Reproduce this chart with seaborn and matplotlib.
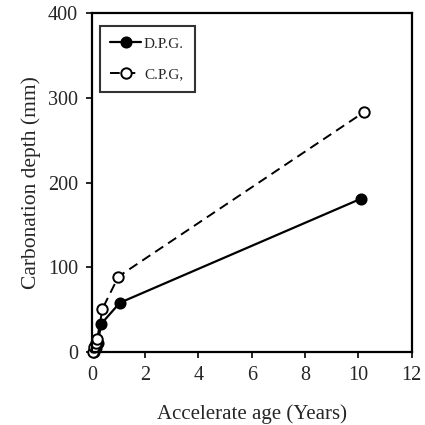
import matplotlib
matplotlib.use("Agg")
import matplotlib.pyplot as plt
import seaborn as sns
import pandas as pd

dpg_age = [0.08, 0.15, 0.22, 0.35, 1.05, 10.1]
dpg_depth = [0, 5, 10, 33, 58, 181]
cpg_age = [0.04, 0.10, 0.15, 0.20, 0.40, 1.0, 10.2]
cpg_depth = [0, 6, 11, 15, 51, 89, 283]
x_ticks = [0, 2, 4, 6, 8, 10, 12]
y_ticks = [0, 100, 200, 300, 400]

sns.set_style("ticks")
plt.rcParams['font.family'] = ['Liberation Serif', 'DejaVu Serif']

fig = plt.figure(figsize=(4.25, 4.25), dpi=100)
ax = fig.add_axes([0.216, 0.172, 0.753, 0.797])

d1 = pd.DataFrame({"age": dpg_age, "depth": dpg_depth})
d2 = pd.DataFrame({"age": cpg_age, "depth": cpg_depth})
sns.lineplot(data=d1, x="age", y="depth", ax=ax, color="black", lw=1.6,
             marker="o", markersize=7.5, markerfacecolor="black",
             markeredgecolor="black", markeredgewidth=1.2, label="D.P.G.",
             clip_on=False)
sns.lineplot(data=d2, x="age", y="depth", ax=ax, color="black", lw=1.4,
             linestyle=(0, (5, 3)), marker="o", markersize=7.5,
             markerfacecolor="white", markeredgecolor="black",
             markeredgewidth=1.4, label="C.P.G,", clip_on=False)

ax.set_xlim(0, 12)
ax.set_ylim(0, 400)
ax.set_xticks(x_ticks)
ax.set_yticks(y_ticks)
ax.tick_params(direction="out", length=4, width=1.2, labelsize=14.5, pad=6, color="black")
for s in ax.spines.values():
    s.set_linewidth(1.6)
    s.set_color("black")
    s.set_visible(True)
ax.set_xlabel("Accelerate age (Years)", fontsize=15, labelpad=14)
ax.set_ylabel("Carbonation depth (mm)", fontsize=15.5, labelpad=5)

leg = ax.legend(loc="upper left", bbox_to_anchor=(0.01, 0.975), fontsize=11,
                frameon=True, fancybox=False, edgecolor="black",
                handlelength=2.0, handletextpad=0.2, borderpad=0.7,
                labelspacing=1.1, borderaxespad=0.3)
leg.get_frame().set_linewidth(1.5)

fig.savefig("out.png", dpi=100)
